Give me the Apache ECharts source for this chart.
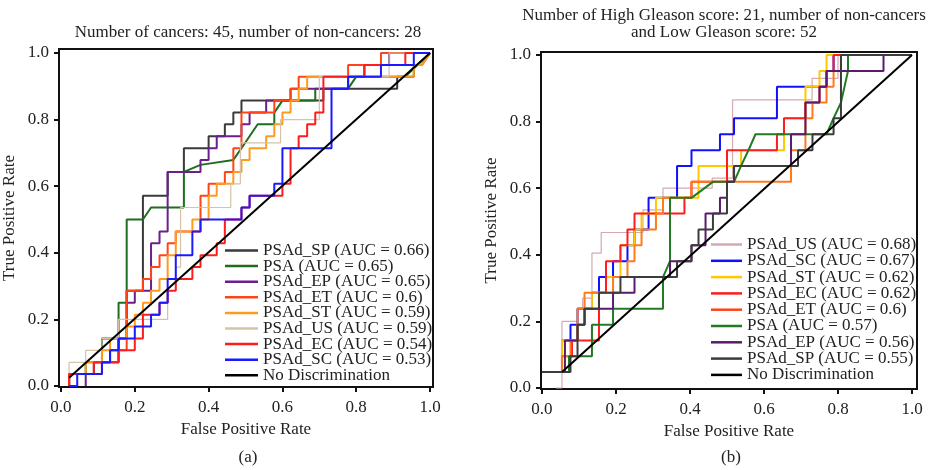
<!DOCTYPE html>
<html>
<head>
<meta charset="utf-8">
<script src="https://cdn.jsdelivr.net/npm/echarts@6/dist/echarts.min.js"></script>
<style>
html, body { margin: 0; padding: 0; background: #fff; }
#main { width: 934px; height: 470px; }
</style>
</head>
<body>
<div id="main"></div>
<script>
var tickValues = [0, 0.2, 0.4, 0.6, 0.8, 1.0];

// ---- panel (a) ----
var titleA = 'Number of cancers: 45, number of non-cancers: 28';
var markersA = ['PSAd_SP', 'PSA', 'PSAd_EP', 'PSAd_ET', 'PSAd_ST', 'PSAd_US', 'PSAd_EC', 'PSAd_SC'];
var aucA = ['0.66', '0.65', '0.65', '0.6', '0.59', '0.59', '0.54', '0.53'];

var spA = [[0.022,0],[0.022,0.036],[0.089,0.036],[0.089,0.071],[0.156,0.071],[0.156,0.143],[0.178,0.143],[0.178,0.286],[0.222,0.286],[0.222,0.571],[0.289,0.571],[0.289,0.643],[0.333,0.643],[0.333,0.714],[0.4,0.714],[0.4,0.75],[0.444,0.75],[0.444,0.786],[0.467,0.786],[0.467,0.821],[0.489,0.821],[0.489,0.857],[0.711,0.857],[0.711,0.893],[0.911,0.893],[0.911,0.929],[0.956,0.929],[0.956,0.964],[0.978,0.964],[1,1]];
var psaA = [[0.022,0],[0.022,0.036],[0.067,0.036],[0.067,0.071],[0.111,0.071],[0.111,0.143],[0.156,0.143],[0.156,0.25],[0.178,0.25],[0.178,0.5],[0.222,0.5],[0.244,0.536],[0.333,0.536],[0.333,0.643],[0.378,0.664],[0.467,0.679],[0.489,0.714],[0.533,0.786],[0.578,0.786],[0.578,0.821],[0.6,0.857],[0.689,0.857],[0.689,0.893],[0.778,0.893],[0.8,0.929],[0.933,0.929],[1,1]];
var epA = [[0.067,0],[0.067,0.036],[0.111,0.036],[0.111,0.071],[0.133,0.071],[0.133,0.107],[0.156,0.107],[0.156,0.143],[0.178,0.143],[0.178,0.25],[0.2,0.25],[0.2,0.286],[0.244,0.286],[0.244,0.429],[0.267,0.429],[0.267,0.464],[0.289,0.464],[0.289,0.643],[0.378,0.643],[0.378,0.679],[0.4,0.679],[0.4,0.714],[0.422,0.714],[0.422,0.75],[0.489,0.75],[0.489,0.786],[0.511,0.786],[0.511,0.821],[0.556,0.821],[0.556,0.857],[0.622,0.857],[0.622,0.893],[0.778,0.893],[0.778,0.929],[0.822,0.929],[0.822,0.964],[0.889,0.964],[0.889,1],[1,1]];
var etA = [[0.022,0],[0.022,0.036],[0.111,0.036],[0.111,0.071],[0.156,0.071],[0.156,0.107],[0.178,0.107],[0.178,0.286],[0.222,0.286],[0.222,0.321],[0.244,0.321],[0.244,0.357],[0.267,0.357],[0.267,0.393],[0.289,0.393],[0.289,0.429],[0.311,0.429],[0.311,0.464],[0.378,0.464],[0.378,0.571],[0.4,0.571],[0.4,0.607],[0.444,0.607],[0.444,0.643],[0.467,0.643],[0.467,0.714],[0.489,0.714],[0.489,0.821],[0.578,0.821],[0.578,0.857],[0.622,0.857],[0.622,0.893],[0.644,0.893],[0.644,0.929],[0.778,0.929],[0.778,0.964],[0.867,0.964],[0.867,1],[1,1]];
var stA = [[0.022,0],[0.022,0.036],[0.067,0.036],[0.067,0.071],[0.111,0.071],[0.111,0.107],[0.133,0.107],[0.133,0.143],[0.178,0.143],[0.178,0.179],[0.2,0.179],[0.2,0.214],[0.222,0.214],[0.222,0.25],[0.244,0.25],[0.244,0.286],[0.267,0.286],[0.267,0.321],[0.289,0.321],[0.289,0.393],[0.311,0.393],[0.311,0.464],[0.356,0.464],[0.356,0.5],[0.4,0.5],[0.4,0.571],[0.422,0.571],[0.422,0.607],[0.467,0.607],[0.467,0.643],[0.489,0.643],[0.489,0.679],[0.511,0.679],[0.511,0.714],[0.556,0.714],[0.556,0.75],[0.578,0.75],[0.578,0.786],[0.6,0.786],[0.6,0.821],[0.622,0.821],[0.622,0.857],[0.644,0.857],[0.644,0.893],[0.667,0.893],[0.667,0.929],[0.956,0.929],[0.956,0.964],[0.978,0.964],[1,1]];
var usA = [[0.022,0],[0.022,0.071],[0.067,0.071],[0.067,0.107],[0.111,0.107],[0.111,0.143],[0.156,0.143],[0.156,0.2],[0.289,0.2],[0.289,0.286],[0.311,0.286],[0.311,0.357],[0.324,0.357],[0.324,0.536],[0.46,0.536],[0.46,0.607],[0.486,0.607],[0.486,0.73],[0.595,0.73],[0.595,0.8],[0.7,0.8],[0.7,0.929],[0.889,0.929],[0.889,1],[1,1]];
var ecA = [[0.022,0],[0.022,0.036],[0.089,0.036],[0.089,0.071],[0.156,0.071],[0.156,0.107],[0.2,0.107],[0.2,0.143],[0.222,0.143],[0.222,0.214],[0.267,0.214],[0.267,0.25],[0.289,0.25],[0.289,0.286],[0.311,0.286],[0.311,0.321],[0.356,0.321],[0.356,0.357],[0.378,0.357],[0.378,0.393],[0.422,0.393],[0.422,0.429],[0.444,0.429],[0.444,0.5],[0.489,0.5],[0.489,0.536],[0.511,0.536],[0.511,0.571],[0.6,0.571],[0.6,0.607],[0.622,0.607],[0.622,0.714],[0.644,0.714],[0.644,0.75],[0.667,0.75],[0.667,0.786],[0.689,0.786],[0.689,0.821],[0.711,0.821],[0.711,0.929],[0.822,0.929],[0.822,0.964],[0.933,0.964],[0.933,1],[1,1]];
var scA = [[0.022,0],[0.044,0],[0.044,0.036],[0.111,0.036],[0.111,0.071],[0.133,0.071],[0.133,0.107],[0.156,0.107],[0.156,0.143],[0.2,0.143],[0.2,0.179],[0.244,0.179],[0.244,0.214],[0.267,0.214],[0.267,0.25],[0.289,0.25],[0.289,0.321],[0.311,0.321],[0.311,0.393],[0.356,0.393],[0.356,0.464],[0.378,0.464],[0.378,0.5],[0.489,0.5],[0.489,0.536],[0.511,0.536],[0.511,0.571],[0.578,0.571],[0.578,0.607],[0.6,0.607],[0.6,0.714],[0.733,0.714],[0.733,0.893],[0.778,0.893],[0.778,0.929],[0.867,0.929],[0.867,0.964],[0.956,0.964],[0.956,1],[1,1]];
var diagA = [[0.022,0.025],[1,1]];

// ---- panel (b) ----
var titleB = ['Number of High Gleason score: 21, number of non-cancers', 'and Low Gleason score: 52'];
var markersB = ['PSAd_US', 'PSAd_SC', 'PSAd_ST', 'PSAd_EC', 'PSAd_ET', 'PSA', 'PSAd_EP', 'PSAd_SP'];
var aucB = ['0.68', '0.67', '0.62', '0.62', '0.6', '0.57', '0.56', '0.55'];

var usB = [[0.038,0],[0.054,0],[0.054,0.2],[0.096,0.2],[0.096,0.24],[0.11,0.24],[0.11,0.27],[0.135,0.27],[0.135,0.405],[0.16,0.405],[0.16,0.467],[0.273,0.467],[0.273,0.535],[0.327,0.535],[0.327,0.6],[0.46,0.6],[0.46,0.63],[0.515,0.63],[0.515,0.865],[0.73,0.865],[0.73,0.93],[0.8,0.93],[0.8,1],[1,1]];
var scB = [[0,0.048],[0.054,0.048],[0.054,0.143],[0.077,0.143],[0.077,0.19],[0.096,0.19],[0.096,0.238],[0.135,0.238],[0.135,0.286],[0.154,0.286],[0.154,0.333],[0.192,0.333],[0.192,0.381],[0.231,0.381],[0.231,0.429],[0.25,0.429],[0.25,0.476],[0.288,0.476],[0.288,0.571],[0.365,0.571],[0.365,0.667],[0.404,0.667],[0.404,0.714],[0.481,0.714],[0.481,0.762],[0.519,0.762],[0.519,0.81],[0.635,0.81],[0.635,0.905],[0.769,0.905],[0.769,0.952],[0.788,0.952],[0.788,1],[1,1]];
var stB = [[0,0.048],[0.054,0.048],[0.054,0.143],[0.096,0.143],[0.096,0.19],[0.115,0.19],[0.115,0.238],[0.135,0.238],[0.135,0.286],[0.173,0.286],[0.173,0.333],[0.212,0.333],[0.212,0.429],[0.25,0.429],[0.25,0.476],[0.269,0.476],[0.269,0.524],[0.308,0.524],[0.308,0.571],[0.423,0.571],[0.423,0.667],[0.538,0.667],[0.538,0.714],[0.654,0.714],[0.654,0.81],[0.712,0.81],[0.712,0.905],[0.75,0.905],[0.75,0.952],[0.769,0.952],[0.769,1],[1,1]];
var ecB = [[0,0.048],[0.054,0.048],[0.054,0.095],[0.081,0.095],[0.081,0.143],[0.154,0.143],[0.154,0.286],[0.173,0.286],[0.173,0.381],[0.212,0.381],[0.212,0.429],[0.231,0.429],[0.231,0.476],[0.25,0.476],[0.25,0.524],[0.385,0.524],[0.385,0.571],[0.404,0.571],[0.404,0.619],[0.5,0.619],[0.5,0.714],[0.635,0.714],[0.635,0.762],[0.654,0.762],[0.654,0.81],[0.712,0.81],[0.712,0.857],[0.75,0.857],[0.75,0.905],[0.769,0.905],[0.769,0.952],[0.788,0.952],[0.788,1],[1,1]];
var etB = [[0,0.048],[0.054,0.048],[0.054,0.095],[0.077,0.095],[0.077,0.143],[0.096,0.143],[0.096,0.238],[0.115,0.238],[0.115,0.286],[0.192,0.286],[0.192,0.333],[0.231,0.333],[0.231,0.381],[0.25,0.381],[0.25,0.429],[0.269,0.429],[0.269,0.476],[0.308,0.476],[0.308,0.524],[0.327,0.524],[0.327,0.571],[0.404,0.571],[0.404,0.619],[0.673,0.619],[0.673,0.714],[0.712,0.714],[0.712,0.81],[0.731,0.81],[0.731,0.857],[0.769,0.857],[0.769,0.905],[0.788,0.905],[0.788,0.952],[0.808,0.952],[0.808,1],[1,1]];
var psaB = [[0,0.048],[0.073,0.048],[0.073,0.095],[0.135,0.095],[0.135,0.19],[0.192,0.19],[0.192,0.238],[0.327,0.238],[0.327,0.333],[0.346,0.381],[0.346,0.571],[0.404,0.571],[0.462,0.619],[0.519,0.619],[0.538,0.667],[0.558,0.714],[0.577,0.762],[0.769,0.762],[0.788,0.81],[0.808,0.857],[0.827,0.952],[0.827,1],[1,1]];
var epB = [[0,0.048],[0.062,0.048],[0.062,0.143],[0.096,0.143],[0.096,0.19],[0.115,0.19],[0.115,0.238],[0.192,0.238],[0.192,0.286],[0.25,0.286],[0.25,0.333],[0.346,0.333],[0.346,0.381],[0.404,0.381],[0.404,0.429],[0.442,0.429],[0.442,0.524],[0.481,0.524],[0.481,0.571],[0.5,0.571],[0.5,0.619],[0.519,0.619],[0.519,0.667],[0.673,0.667],[0.673,0.762],[0.712,0.762],[0.712,0.857],[0.75,0.857],[0.75,0.905],[0.769,0.905],[0.769,0.952],[0.923,0.952],[0.923,1],[1,1]];
var spB = [[0,0.048],[0.077,0.048],[0.077,0.095],[0.096,0.095],[0.096,0.19],[0.115,0.19],[0.115,0.238],[0.154,0.238],[0.154,0.286],[0.212,0.286],[0.212,0.333],[0.365,0.333],[0.365,0.381],[0.404,0.381],[0.404,0.429],[0.423,0.429],[0.423,0.476],[0.462,0.476],[0.462,0.524],[0.5,0.524],[0.5,0.619],[0.519,0.619],[0.519,0.667],[0.692,0.667],[0.692,0.714],[0.731,0.714],[0.731,0.762],[0.788,0.762],[0.788,0.81],[0.808,0.81],[0.808,1],[1,1]];
var diagB = [[0.054,0.048],[1,1]];

var ndName = 'No Discrimination';
var serif = '"Liberation Serif", "DejaVu Serif", serif';
var fs = 17;

var curvesA = [spA, psaA, epA, etA, stA, usA, ecA, scA];
var colorsA = ['#3a3a3a', '#1f6e1f', '#6a1f8c', '#ff4418', '#ff9a1e', '#d6c2a4', '#ff1c1c', '#1a1aff'];
var widthsA = [2, 2, 2, 2, 2, 1.2, 2, 2];

var curvesB = [usB, scB, stB, ecB, etB, psaB, epB, spB];
var colorsB = ['#d3aab0', '#1010ff', '#ffc800', '#ff1c1c', '#ff7a1a', '#227a22', '#5c1a6e', '#3c3c3c'];
var widthsB = [1.2, 2, 2, 2, 2, 2, 2, 2];

var chart = echarts.init(document.getElementById('main'));

function label(m, a) { return m + ' (AUC = ' + a + ')'; }

function lineSeries(name, data, color, width, gi) {
    return {
        name: name, type: 'line', data: data,
        xAxisIndex: gi, yAxisIndex: gi,
        showSymbol: false, symbol: 'none', silent: true,
        lineStyle: { color: color, width: width },
        itemStyle: { color: color }
    };
}

function xAxisFor(gi, min, max) {
    return {
        type: 'value', gridIndex: gi, min: min, max: max,
        name: 'False Positive Rate', nameLocation: 'middle', nameGap: 34,
        nameTextStyle: { fontFamily: serif, fontSize: fs, color: '#222' },
        axisLine: { show: true, onZero: false, lineStyle: { color: '#111', width: 2 } },
        axisTick: { show: true, length: 5, customValues: tickValues, lineStyle: { color: '#111', width: 2 } },
        axisLabel: { customValues: tickValues, margin: 12, fontFamily: serif, fontSize: fs, color: '#222',
            formatter: function (v) { return v.toFixed(1); } },
        splitLine: { show: false }
    };
}

function yAxisFor(gi, min, max) {
    return {
        type: 'value', gridIndex: gi, min: min, max: max,
        name: 'True Positive Rate', nameLocation: 'middle', nameGap: 41,
        nameTextStyle: { fontFamily: serif, fontSize: fs, color: '#222' },
        axisLine: { show: true, onZero: false, lineStyle: { color: '#111', width: 2 } },
        axisTick: { show: true, length: 5, customValues: tickValues, lineStyle: { color: '#111', width: 2 } },
        axisLabel: { customValues: tickValues, margin: 10, fontFamily: serif, fontSize: fs, color: '#222',
            formatter: function (v) { return v.toFixed(1); } },
        splitLine: { show: false }
    };
}

var series = [];
var legendA = [], legendB = [];
for (var i = 0; i < curvesA.length; i++) {
    var n = label(markersA[i], aucA[i]);
    legendA.push(n);
    series.push(lineSeries(n, curvesA[i], colorsA[i], widthsA[i], 0));
}
series.push(lineSeries(ndName, diagA, '#000', 2, 0));
legendA.push(ndName);
for (var j = 0; j < curvesB.length; j++) {
    var nb = label(markersB[j], aucB[j]);
    legendB.push(nb);
    series.push(lineSeries(nb, curvesB[j], colorsB[j], widthsB[j], 1));
}
series.push(lineSeries(ndName, diagB, '#000', 2, 1));
legendB.push(ndName);

var legendText = { fontFamily: serif, fontSize: fs, color: '#222' };

var option = {
    animation: false,
    backgroundColor: '#fff',
    grid: [
        { left: 58, top: 49, width: 375, height: 338, show: true, borderColor: '#111', borderWidth: 2 },
        { left: 541, top: 52, width: 376, height: 337, show: true, borderColor: '#111', borderWidth: 2 }
    ],
    xAxis: [xAxisFor(0, -0.0054, 1.008), xAxisFor(1, -0.0027, 1.0135)],
    yAxis: [yAxisFor(0, -0.003, 1.012), yAxisFor(1, -0.003, 1.009)],
    legend: [
        { data: legendA, orient: 'vertical', left: 225, top: 242, padding: 0, itemGap: -1.4,
          itemWidth: 33, itemHeight: 2.5, icon: 'rect', selectedMode: false,
          textStyle: legendText },
        { data: legendB, orient: 'vertical', left: 711, top: 236, padding: 0, itemGap: -0.7,
          itemWidth: 31, itemHeight: 2.5, icon: 'rect', selectedMode: false,
          textStyle: legendText }
    ],
    graphic: [
        { type: 'text', x: 248, y: 33, silent: true,
          style: { text: titleA, font: fs + 'px ' + serif, fill: '#222', textAlign: 'center', textVerticalAlign: 'middle' } },
        { type: 'text', x: 724, y: 24.5, silent: true,
          style: { text: titleB.join('\n'), font: fs + 'px ' + serif, lineHeight: 17, fill: '#222', textAlign: 'center', textVerticalAlign: 'middle' } },
        { type: 'text', x: 248, y: 458, silent: true,
          style: { text: '(a)', font: fs + 'px ' + serif, fill: '#222', textAlign: 'center', textVerticalAlign: 'middle' } },
        { type: 'text', x: 731, y: 458, silent: true,
          style: { text: '(b)', font: fs + 'px ' + serif, fill: '#222', textAlign: 'center', textVerticalAlign: 'middle' } }
    ],
    series: series
};
chart.setOption(option);
</script>
</body>
</html>
